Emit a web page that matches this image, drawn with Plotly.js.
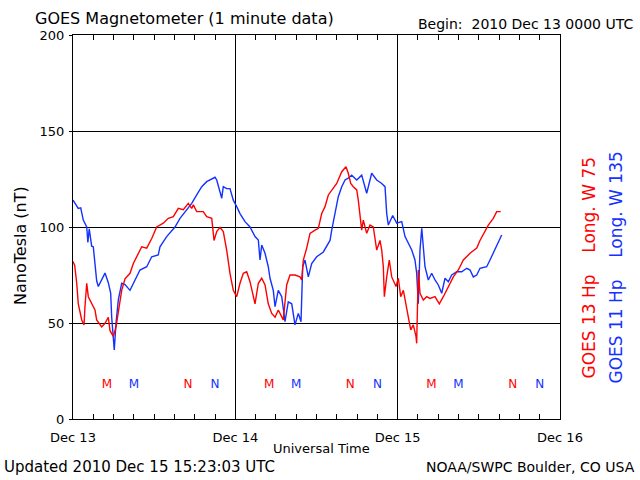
<!DOCTYPE html>
<html><head><meta charset="utf-8">
<script src="https://cdn.plot.ly/plotly-3.0.1.min.js"></script>
<style>html,body{margin:0;padding:0;background:#fff}#chart{width:640px;height:480px}</style>
</head><body><div id="chart"></div>
<script>
// Hours since 2010 Dec 13 00:00 UT
var blueHours = [0,0.78,1.14,1.52,2.03,2.2,2.4,2.76,3.0,3.25,3.5,3.74,3.99,4.48,4.73,5.22,5.57,5.72,5.96,6.1,6.36,6.7,7.2,7.69,8.43,8.92,9.9,10.9,11.64,12.6,12.86,13.85,15.08,15.82,16.81,17.55,18.29,19.03,19.77,21.0,21.25,21.99,22.22,22.72,23.21,23.7,24.2,24.69,25.43,26.17,26.91,27.4,27.65,27.9,28.39,28.87,29.13,29.61,29.87,30.35,30.86,31.34,31.83,32.34,32.82,33.31,33.71,33.96,34.3,34.79,35.29,36.03,37.01,37.51,38.0,38.25,38.74,39.22,39.73,40.22,40.7,41.2,41.95,42.68,43.42,44.16,44.9,45.64,46.13,46.38,46.62,47.12,47.27,47.86,48.6,49.09,49.57,50.08,50.56,50.81,51.05,51.3,51.56,51.79,52.04,52.53,53.03,53.52,54.01,54.51,55.0,55.49,55.99,56.73,57.47,58.21,58.7,59.18,59.69,60.17,61.16,61.65,62.39,62.88,63.38];
var blueValues = [114,109.7,110,103.6,100,92,99,90,89.7,80,72,69,71,74,76,71,65.6,53,43,36,50,62,70.7,70,67,70.7,77.6,79.3,84.5,85.4,89.7,95,100,104.5,108.9,112.3,116.7,121,123.6,125.9,124.5,115,121,120,120,114,110.6,107,102.8,100,95,93.2,82.8,90.6,86.3,79.3,73.3,67,58.5,67,63.7,50.7,61,60,49,55,50.7,79.3,82.8,74,81,84.5,87,89.7,93,98.4,108,115.8,121,124.5,125.4,127,124.5,127,117.6,128,124.5,122.7,121,107,101,105.4,106,102,102.8,95,91.5,88,82.8,75.9,60,88,99.3,89.7,79.3,72.4,75.9,72.4,69.8,65.5,73.3,71.5,75,76.7,76.7,78.5,77.6,74,75,78.5,79.3,82.8,88,91.5,95.8];
var redHours = [0,0.25,0.55,0.78,1.29,1.63,1.77,2.03,2.26,2.76,3.25,3.5,4.24,4.73,5.22,5.47,5.96,6.36,6.7,7.2,7.69,8.43,8.92,9.65,10.16,10.9,11.64,12.37,13.35,14.09,14.83,15.57,16.31,17.05,17.55,17.79,18.29,19.26,19.77,20.51,20.85,21.25,21.73,22.22,22.72,23.21,23.7,24.2,24.69,25.18,25.68,26.17,26.66,26.91,27.4,27.9,28.39,28.87,29.38,29.87,30.35,31.09,31.59,32.08,32.82,33.56,33.81,34.05,34.55,35.04,35.78,36.27,36.77,37.26,37.75,38.25,38.99,39.73,40.36,40.7,41.06,41.44,41.95,42.18,42.43,42.68,42.92,43.42,43.91,44.4,44.65,44.9,45.39,45.64,45.88,46.03,46.38,46.76,47.12,47.76,48.1,48.45,48.84,49.23,49.57,49.93,50.31,50.71,50.81,51.05,51.3,51.79,52.29,52.78,53.52,54.16,54.75,55.49,56.23,56.97,57.71,58.7,59.69,60.17,60.91,61.4,62.14,62.64,63.23];
var redValues = [82,80,70.7,60,51.6,49,58.5,70.7,63.7,60,56.8,51.6,48,49.8,53,46,43,48,56.8,67,73,75.9,81,86.3,89.7,89,94,100,102,104.5,105.4,109.7,109,112.3,109.7,111.5,108,108,105.4,104.5,93,97.6,99.8,97.6,88,75.9,67,63.7,70.7,75.9,76.7,71.5,63.7,60,70.7,73.3,69.8,60,55,53,56.8,51.6,69.8,75,75,74,72.4,82.8,89,96.7,98.4,99.3,107,110.6,116.7,119.3,122.7,128.8,131.4,128,122.7,121,119.3,114,107,98.4,103.6,96.7,101,100,94,88,93,88,79.3,63.7,74,82.8,74,69,73.3,63.7,67,60,53,46.4,49,43,39.4,77.6,65.5,62,63.7,62.8,63.7,60,63.7,69,74,77.6,82.8,86.3,89,93,97.6,101,104.5,108,108];

// Local midnight (M) and noon (N) markers, hours since start
var redMHours = [5,29,53];
var blueMHours = [9,33,57];
var redNHours = [17,41,65];
var blueNHours = [21,45,69];
var markerLevel = 17.7;

var dayTickVals = [0,24,48,72];
var dayTickText = ['Dec 13','Dec 14','Dec 15','Dec 16'];
var yTickVals = [0,50,100,150,200];

var RED = 'rgb(255,0,0)', BLUE = 'rgb(20,50,255)';
var FONT = 'DejaVu Sans, sans-serif';

function letterTrace(xs, letter, color){
  return {x: xs, y: xs.map(function(){return markerLevel;}), mode:'text',
    text: xs.map(function(){return letter;}), textfont:{family:FONT,size:12,color:color},
    hoverinfo:'skip', showlegend:false, cliponaxis:false};
}

var data = [
  {x: blueHours, y: blueValues, mode:'lines', line:{color:BLUE,width:1.4}, showlegend:false},
  {x: redHours, y: redValues, mode:'lines', line:{color:RED,width:1.4}, showlegend:false},
  letterTrace(redMHours,'M',RED), letterTrace(blueMHours,'M',BLUE),
  letterTrace(redNHours,'N',RED), letterTrace(blueNHours,'N',BLUE)
];

function ann(text,x,y,xa,size,color,angle){
  return {text:text,x:x,y:y,xref:'paper',yref:'paper',xanchor:xa,yanchor:'middle',
    showarrow:false,font:{family:FONT,size:size,color:color||'#000'},textangle:angle||0};
}

var layout = {
  width:640, height:480,
  margin:{l:73,r:80,t:35,b:61},
  paper_bgcolor:'#fff', plot_bgcolor:'#fff',
  font:{family:FONT,size:13,color:'#000'},
  xaxis:{range:[0,72], tickmode:'array', tickvals:dayTickVals, ticktext:dayTickText,
    showgrid:true, gridcolor:'#000', gridwidth:1, zeroline:false,
    showline:true, linecolor:'#000', linewidth:1, mirror:'allticks',
    ticks:'inside', ticklen:5, tickcolor:'#000', ticklabelstandoff:6,
    tickfont:{family:FONT,size:13},
    minor:{tickmode:'linear', tick0:0, dtick:3, ticks:'inside', ticklen:5, tickcolor:'#000', showgrid:false}},
  yaxis:{range:[0,200], tickmode:'array', tickvals:yTickVals,
    showgrid:true, gridcolor:'#000', gridwidth:1, zeroline:false,
    showline:true, linecolor:'#000', linewidth:1, mirror:true,
    ticks:'outside', ticklen:3, tickcolor:'#000', ticklabelstandoff:2,
    tickfont:{family:FONT,size:13}},
  annotations:[
    ann('GOES Magnetometer (1 minute data)',-0.082,1.044,'left',16),
    ann('Begin:  2010 Dec 13 0000 UTC',1.154,1.029,'right',14),
    ann('Universal Time',0.511,-0.078,'center',13),
    ann('Updated 2010 Dec 15 15:23:03 UTC',-0.146,-0.125,'left',15),
    ann('NOAA/SWPC Boulder, CO USA',1.158,-0.125,'right',14),
    ann('NanoTesla (nT)',-0.109,0.453,'center',16,'#000',-90),
    ann('GOES 13 Hp    Long. W 75',1.0595,0.3945,'center',17,RED,-90),
    ann('GOES 11 Hp    Long. W 135',1.113,0.3945,'center',17,BLUE,-90)
  ]
};

Plotly.newPlot('chart', data, layout, {staticPlot:true, displayModeBar:false});
</script></body></html>
